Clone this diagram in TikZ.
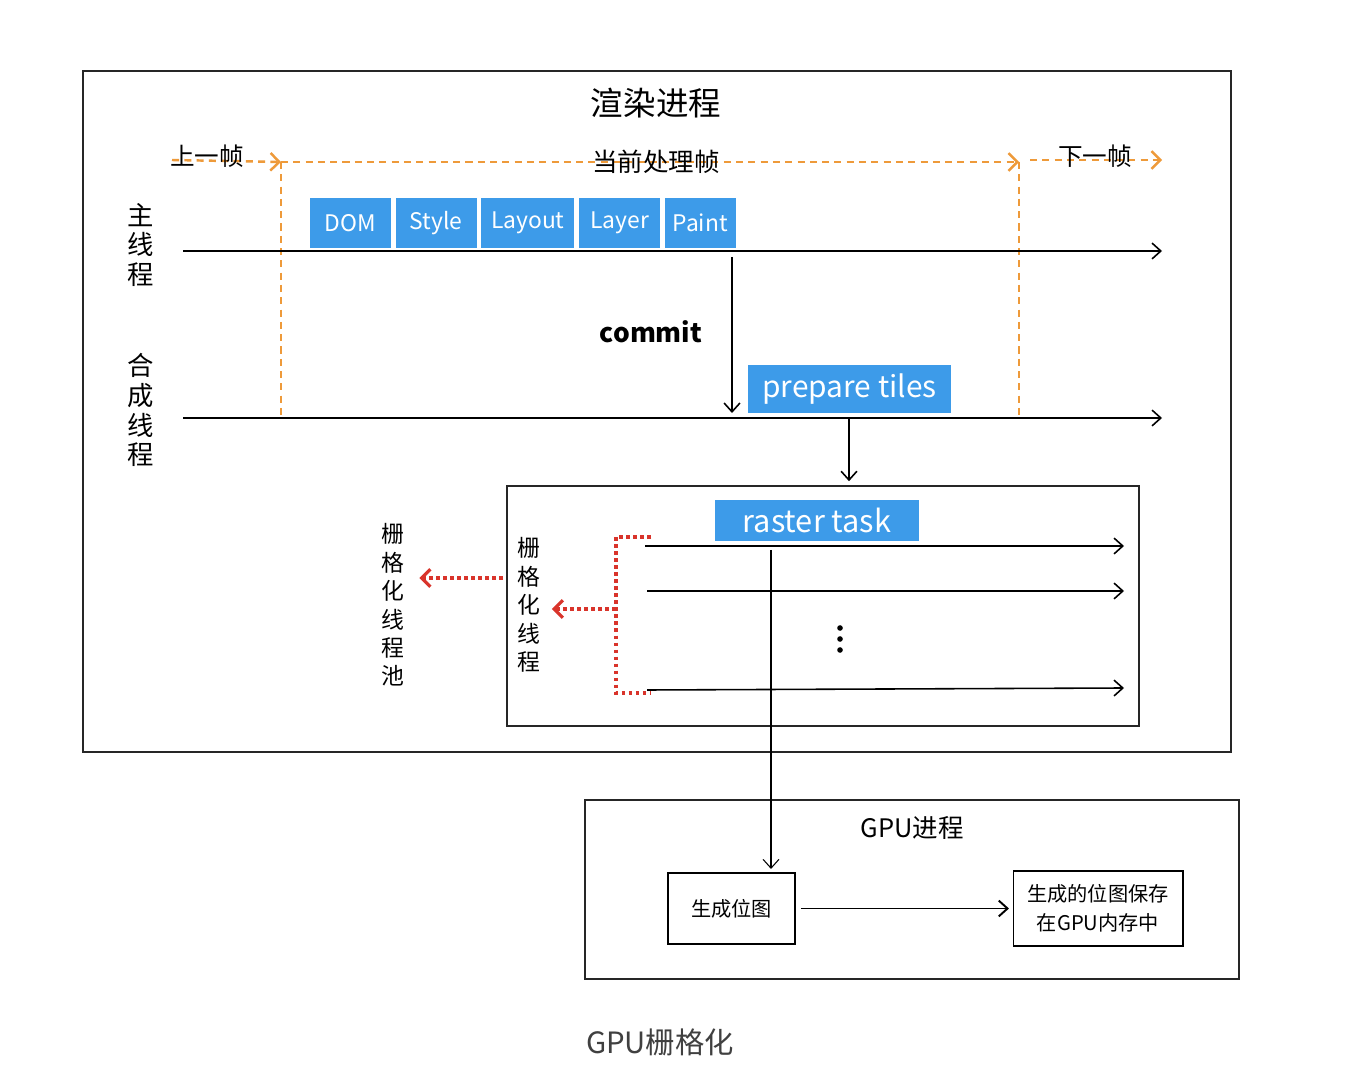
\documentclass[tikz,border=0pt]{standalone}
\usepackage{fontspec}
\setmainfont{Noto Sans CJK SC}
\usetikzlibrary{positioning,arrows.meta}
\definecolor{tblue}{RGB}{61,155,233}
\definecolor{torange}{RGB}{238,154,58}
\definecolor{tred}{RGB}{217,52,43}

\begin{document}
\begin{tikzpicture}[
  x=0.02cm, y=-0.02cm,
  node distance=0.08cm and 0.08cm,
  bluebox/.style={fill=tblue,text=white,inner sep=0pt,minimum height=1cm,font=\fontsize{13}{13}\selectfont},
  plainbox/.style={draw,line width=0.6pt,inner sep=0pt,align=center,font=\fontsize{11.5}{16.5}\selectfont},
  frame/.style={draw=black!85,line width=1.5pt},
  line/.style={line width=0.9pt,-{Straight Barb[length=5pt,width=9pt]}},
  orange/.style={draw=torange,line width=1.4pt,dash pattern=on 4pt off 3pt},
  reddot/.style={draw=tred,line width=2pt,dash pattern=on 2pt off 2pt},
  vtext/.style={align=center,font=\fontsize{15}{17}\selectfont}
]
\useasboundingbox[fill=white] (0,0) rectangle (1346,1070);

% render process
\draw[frame] (83,71) rectangle (1231,752);
\node[font=\fontsize{18.5}{18.5}\selectfont] (title) at (656,103) {渲染进程};

% frames
\coordinate (p0) at (172,160);
\coordinate (p1) at (281,162);
\coordinate (p2) at (1019,162);
\coordinate (p3) at (1030,160);
\coordinate (p4) at (1162,160);
\coordinate (q1) at (281,418);
\coordinate (q2) at (1019,418);
\draw[orange,-{Straight Barb[length=5pt,width=10pt,line width=1.4pt]}] (p0) -- (p1);
\draw[orange,-{Straight Barb[length=5pt,width=10pt,line width=1.4pt]}] (p1) -- (p2);
\draw[orange,-{Straight Barb[length=5pt,width=10pt,line width=1.4pt]}] (p3) -- (p4);
\draw[orange] (p1) -- (q1);
\draw[orange] (p2) -- (q2);
\node[font=\fontsize{14}{14}\selectfont] (prev) at (207,156) {上一帧};
\node[font=\fontsize{14.5}{14.5}\selectfont] (cur) at (656,162) {当前处理帧};
\node[font=\fontsize{14}{14}\selectfont] (next) at (1095,156) {下一帧};

% main thread
\coordinate (m0) at (183,251);
\coordinate (m1) at (1162,251);
\draw[line] (m0) -- (m1);
\node[vtext] (mainlbl) at (141,245) {主\\线\\程};
\node[bluebox,minimum width=1.62cm] (dom) at (350.5,223) {DOM};
\node[bluebox,minimum width=1.62cm,right=of dom] (style) {Style};
\node[bluebox,minimum width=1.86cm,right=of style] (layout) {Layout};
\node[bluebox,minimum width=1.62cm,right=of layout] (layer) {Layer};
\node[bluebox,minimum width=1.42cm,right=of layer] (paint) {Paint};

% commit
\coordinate (c0) at (732,257);
\coordinate (c1) at (732,413);
\draw[line] (c0) -- (c1);
\node[font=\fontsize{15}{15}\selectfont\bfseries] (commit) at (651,332) {commit};

% compositor thread
\coordinate (k0) at (183,418);
\coordinate (k1) at (1162,418);
\draw[line] (k0) -- (k1);
\node[vtext] (complbl) at (141,410) {合\\成\\线\\程};
\node[bluebox,minimum width=4.06cm,minimum height=0.96cm,font=\fontsize{17}{17}\selectfont] (tiles) at (849.5,389) {prepare tiles};

% raster box
\node[frame,minimum width=12.64cm,minimum height=4.8cm] (rbox) at (823,606) {};
\coordinate (t0) at (849,418);
\draw[line] (t0) -- ([yshift=2pt]t0 |- rbox.north);
\node[bluebox,minimum width=4.08cm,minimum height=0.82cm,font=\fontsize{17.5}{17.5}\selectfont] (rtask) at (817,520.5) {raster task};
\coordinate (r1a) at (645,546); \coordinate (r1b) at (1124,546);
\coordinate (r2a) at (647,591); \coordinate (r2b) at (1124,591);
\coordinate (r3a) at (647,690); \coordinate (r3b) at (1124,688);
\draw[line] (r1a) -- (r1b);
\draw[line] (r2a) -- (r2b);
\draw[line] (r3a) -- (r3b);
\foreach \y in {628,639,650}
  \fill (840,\y) circle (1.6pt);

% raster threads
\node[vtext,font=\fontsize{13}{16.2}\selectfont] (rthread) at (529,605) {栅\\格\\化\\线\\程};
\coordinate (b0) at (651,537);
\coordinate (b1) at (616,537);
\coordinate (b2) at (616,693);
\coordinate (b3) at (651,693);
\coordinate (b4) at (616,609);
\draw[reddot] (b0) -- (b1) -- (b2) -- (b3);
\draw[reddot,-{Straight Barb[length=5pt,width=10pt,line width=1.8pt]}] (b4) -- ([xshift=3pt]b4 -| rthread.east);
\node[vtext,font=\fontsize{13}{16.2}\selectfont] (pool) at (393,605) {栅\\格\\化\\线\\程\\池};
\coordinate (h0) at (503,578);
\draw[reddot,-{Straight Barb[length=5pt,width=10pt,line width=1.8pt]}] (h0) -- ([xshift=5pt]h0 -| pool.east);

% gpu process
\node[frame,minimum width=13.08cm,minimum height=3.58cm] (gbox) at (912,889.5) {};
\node[font=\fontsize{14.5}{14.5}\selectfont] (gtitle) at (912,828) {GPU进程};
\node[plainbox,minimum width=2.54cm,minimum height=1.42cm] (bmp) at (731.5,908.5) {生成位图};
\node[plainbox,minimum width=3.4cm,minimum height=1.5cm] (save) at (1098,908.5) {生成的位图保存\\在GPU内存中};
\coordinate (v0) at (771,550);
\draw[line width=0.6pt,-{Straight Barb[length=5pt,width=9pt]}] (v0) -- ([yshift=2pt]v0 |- bmp.north);
\draw[line,line width=1.1pt] ([xshift=3pt]bmp.east) -- ([xshift=-2pt]save.west);

\node[text=black!75,font=\fontsize{16.7}{16.7}\selectfont] (caption) at (660,1042) {GPU栅格化};
\end{tikzpicture}
\end{document}
